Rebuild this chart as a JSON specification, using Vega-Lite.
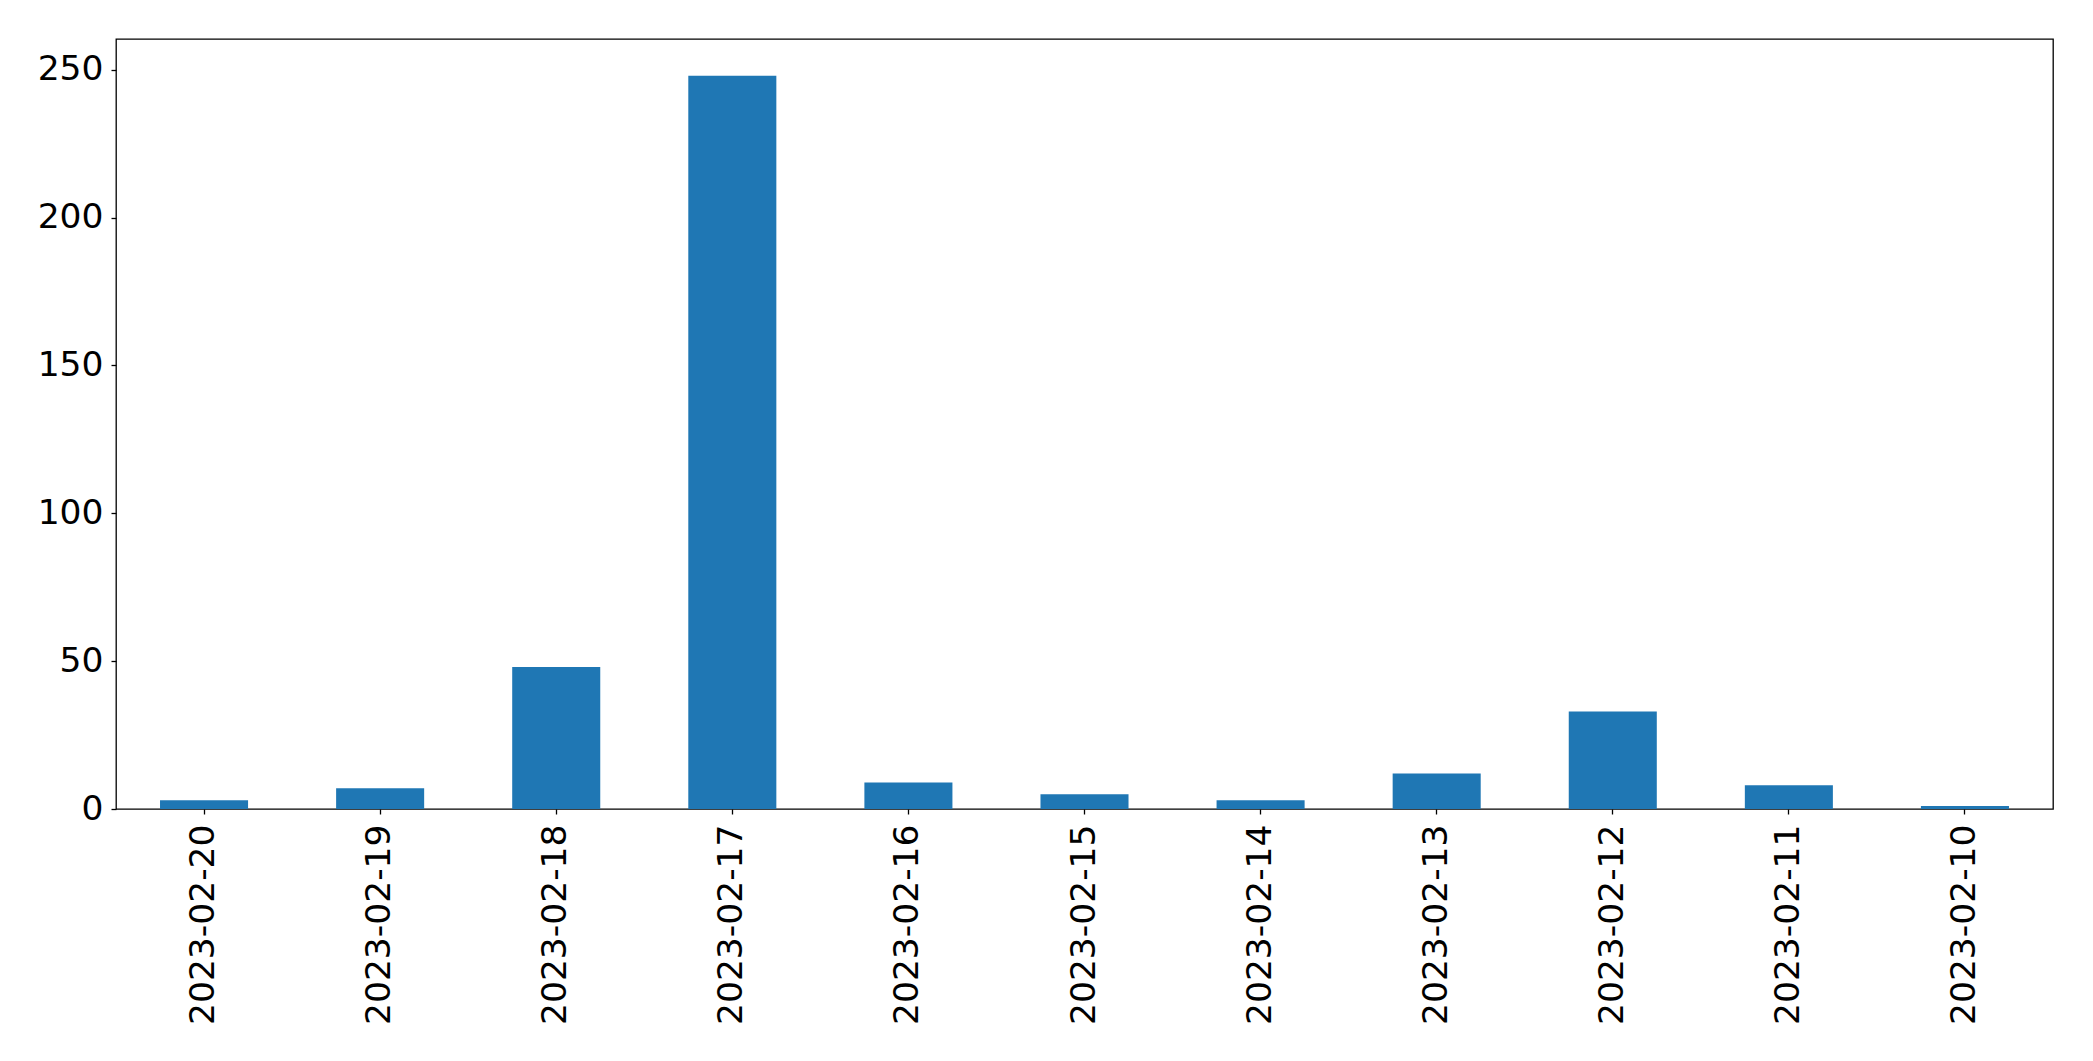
{
  "$schema": "https://vega.github.io/schema/vega-lite/v6.json",
  "width": 1937,
  "height": 770,
  "autosize": {"type": "none"},
  "padding": {"left": 116, "top": 39, "right": 40, "bottom": 252},
  "background": "white",
  "config": {
    "view": {"stroke": "black", "strokeWidth": 1.3},
    "font": "DejaVu Sans"
  },
  "data": {
    "values": [
      {"date": "2023-02-20", "count": 3},
      {"date": "2023-02-19", "count": 7},
      {"date": "2023-02-18", "count": 48},
      {"date": "2023-02-17", "count": 248},
      {"date": "2023-02-16", "count": 9},
      {"date": "2023-02-15", "count": 5},
      {"date": "2023-02-14", "count": 3},
      {"date": "2023-02-13", "count": 12},
      {"date": "2023-02-12", "count": 33},
      {"date": "2023-02-11", "count": 8},
      {"date": "2023-02-10", "count": 1}
    ]
  },
  "mark": {"type": "bar", "color": "#1f77b4"},
  "encoding": {
    "x": {
      "field": "date",
      "type": "nominal",
      "sort": null,
      "scale": {"paddingInner": 0.5, "paddingOuter": 0.25},
      "axis": {
        "title": null,
        "labelAngle": -90,
        "labelFontSize": 34.5,
        "labelFont": "DejaVu Sans",
        "labelColor": "black",
        "labelPadding": 10,
        "labelLimit": 0,
        "tickColor": "black",
        "tickSize": 5,
        "tickWidth": 1.3,
        "domain": false,
        "grid": false
      }
    },
    "y": {
      "field": "count",
      "type": "quantitative",
      "scale": {"domain": [0, 260.4], "nice": false, "zero": true},
      "axis": {
        "title": null,
        "values": [0, 50, 100, 150, 200, 250],
        "labelFontSize": 34.5,
        "labelFont": "DejaVu Sans",
        "labelColor": "black",
        "labelPadding": 8,
        "tickColor": "black",
        "tickSize": 5,
        "tickWidth": 1.3,
        "domain": false,
        "grid": false
      }
    }
  }
}
